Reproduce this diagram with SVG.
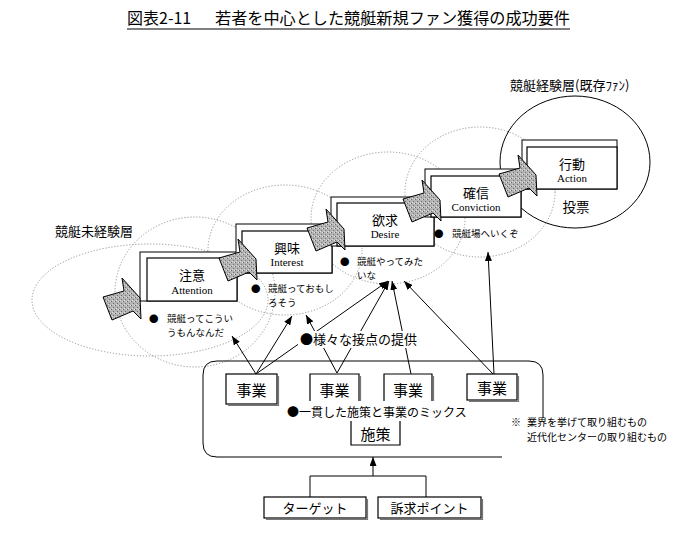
<svg xmlns="http://www.w3.org/2000/svg" xmlns:xlink="http://www.w3.org/1999/xlink" width="700" height="550" viewBox="0 0 700 550">
<style>
.jp{font-family:"Noto Sans CJK JP","Liberation Sans",sans-serif;fill:#000}
.en{font-family:"Liberation Serif",serif;fill:#000;font-size:11px}
.dot{fill:none;stroke:#8a8a8a;stroke-width:0.9;stroke-dasharray:1.2 1.8}
.frame{fill:#fff;stroke:#000;stroke-width:1}
.inner{fill:#fff;stroke:#000;stroke-width:1.2}
.conn{fill:none;stroke:#000;stroke-width:1}
.box{fill:#fff;stroke:#000;stroke-width:1.2}
.shadow{fill:none;stroke:#777;stroke-width:1.2}
.garrow{fill:url(#stip);stroke:#000;stroke-width:1;stroke-linejoin:miter}
</style>
<defs>
<pattern id="stip" width="4" height="4" patternUnits="userSpaceOnUse">
<rect width="4" height="4" fill="#b4b4b4"/>
<rect x="0" y="0" width="1" height="1" fill="#666"/>
<rect x="2" y="2" width="1" height="1" fill="#707070"/>
<rect x="3" y="0" width="1" height="1" fill="#e0e0e0"/>
<rect x="1" y="3" width="1" height="1" fill="#dcdcdc"/>
</pattern>
<marker id="ah" viewBox="0 0 9 7" refX="9" refY="3.5" markerWidth="9" markerHeight="7" markerUnits="userSpaceOnUse" orient="auto">
<path d="M0,0 L9,3.5 L0,7 z" fill="#000"/>
</marker>
<polygon id="ga" class="garrow" points="0,0 21,-6 19,-19 37,1 38,22 30,14 9,23"/>
</defs>
<rect width="700" height="550" fill="#fff"/>

<g id="title">
<text class="jp" x="127" y="24" font-size="16">図表2-11</text>
<text class="jp" x="215" y="24" font-size="16" textLength="355" lengthAdjust="spacingAndGlyphs">若者を中心とした競艇新規ファン獲得の成功要件</text>
<line x1="127" y1="29" x2="570" y2="29" stroke="#000" stroke-width="1.2"/>
</g>

<g id="circles">
<ellipse class="dot" cx="150" cy="300" rx="118" ry="56"/>
<ellipse class="dot" cx="195" cy="292" rx="80" ry="75"/>
<ellipse class="dot" cx="285" cy="250" rx="77" ry="65"/>
<ellipse class="dot" cx="388" cy="218" rx="77" ry="66"/>
<ellipse class="dot" cx="480" cy="192" rx="75" ry="65"/>
<ellipse cx="575" cy="162" rx="75" ry="66" fill="none" stroke="#000" stroke-width="1"/>
</g>

<g id="layer-labels">
<text class="jp" x="55" y="236" font-size="13">競艇未経験層</text>
<text class="jp" x="510" y="90" font-size="13">競艇経験層(既存ﾌｧﾝ)</text>
</g>

<g id="stage-attention">
<rect class="frame" x="140" y="252" width="97" height="49"/>
<rect class="inner" x="147" y="258" width="90" height="43"/>
<text class="jp" x="192" y="280" font-size="13" text-anchor="middle">注意</text>
<text class="en" x="192" y="294" text-anchor="middle">Attention</text>
</g>
<g id="stage-interest">
<rect class="frame" x="236" y="224" width="96" height="49"/>
<rect class="inner" x="242" y="231" width="90" height="42"/>
<text class="jp" x="287" y="253" font-size="13" text-anchor="middle">興味</text>
<text class="en" x="287" y="266" text-anchor="middle">Interest</text>
</g>
<g id="stage-desire">
<rect class="frame" x="331" y="197" width="103" height="49"/>
<rect class="inner" x="337" y="203" width="97" height="43"/>
<text class="jp" x="385" y="225" font-size="13" text-anchor="middle">欲求</text>
<text class="en" x="385" y="238" text-anchor="middle">Desire</text>
</g>
<g id="stage-conviction">
<rect class="frame" x="425" y="169" width="96" height="48"/>
<rect class="inner" x="431" y="176" width="90" height="41"/>
<text class="jp" x="476" y="198" font-size="13" text-anchor="middle">確信</text>
<text class="en" x="476" y="211" text-anchor="middle">Conviction</text>
</g>
<g id="stage-action">
<rect class="frame" x="522" y="140" width="95" height="49"/>
<rect class="inner" x="527" y="147" width="90" height="42"/>
<text class="jp" x="572" y="169" font-size="13" text-anchor="middle">行動</text>
<text class="en" x="572" y="182" text-anchor="middle">Action</text>
<text class="jp" x="576" y="212" font-size="13.5" text-anchor="middle">投票</text>
</g>

<g id="flow-arrows">
<use xlink:href="#ga" href="#ga" transform="translate(103,297)"/>
<use xlink:href="#ga" href="#ga" transform="translate(219,258)"/>
<use xlink:href="#ga" href="#ga" transform="translate(307,228)"/>
<use xlink:href="#ga" href="#ga" transform="translate(403,199)"/>
<use xlink:href="#ga" href="#ga" transform="translate(499,174)"/>
</g>

<g id="stage-notes" class="jp" font-size="9.5">
<text x="149" y="322">●<tspan x="167">競艇ってこうい</tspan></text>
<text x="167" y="336">うもんなんだ</text>
<text x="251" y="292">●<tspan x="268">競艇っておもし</tspan></text>
<text x="268" y="306">ろそう</text>
<text x="340" y="265">●<tspan x="357">競艇やってみた</tspan></text>
<text x="357" y="279">いな</text>
<text x="434" y="237">●<tspan x="452">競艇場へいくぞ</tspan></text>
</g>

<g id="connectors">
<line class="conn" x1="256" y1="374" x2="232" y2="336" marker-end="url(#ah)"/>
<line class="conn" x1="256" y1="374" x2="292" y2="316" marker-end="url(#ah)"/>
<line class="conn" x1="256" y1="374" x2="388" y2="281" marker-end="url(#ah)"/>
<line class="conn" x1="337" y1="373" x2="306" y2="315" marker-end="url(#ah)"/>
<line class="conn" x1="337" y1="373" x2="389" y2="281" marker-end="url(#ah)"/>
<line class="conn" x1="411" y1="374" x2="392" y2="281" marker-end="url(#ah)"/>
<line class="conn" x1="493" y1="374" x2="404" y2="281" marker-end="url(#ah)"/>
<line class="conn" x1="494" y1="374" x2="488" y2="252" marker-end="url(#ah)"/>
<path class="conn" d="M310,497 V476 H426 V497"/>
<line class="conn" x1="373" y1="476" x2="373" y2="457" marker-end="url(#ah)"/>
</g>

<g id="touchpoints-label">
<rect x="298" y="331" width="122" height="17" fill="#fff"/>
<text class="jp" x="300" y="344" font-size="13">●様々な接点の提供</text>
</g>

<g id="container">
<path d="M543,418 V375 Q543,361 529,361 H217 Q203,361 203,375 V443 Q203,457 217,457 H502" fill="none" stroke="#000" stroke-width="1"/>
</g>

<g id="biz-1">
<path class="shadow" d="M278.5,376 V405.5 H228"/>
<rect class="box" x="226" y="374" width="51" height="30"/>
<text class="jp" x="251.5" y="396" font-size="15" text-anchor="middle">事業</text>
</g>
<g id="biz-2">
<path class="box" fill="none" d="M310,401 V374 H359 V401"/>
<path class="shadow" d="M360.5,376 V401"/>
<text class="jp" x="334.5" y="396" font-size="15" text-anchor="middle">事業</text>
</g>
<g id="biz-3">
<path class="box" fill="none" d="M384,401 V374 H432 V401"/>
<path class="shadow" d="M433.5,376 V401"/>
<text class="jp" x="408" y="396" font-size="15" text-anchor="middle">事業</text>
</g>
<g id="biz-4">
<path class="shadow" d="M518.5,376 V401.5 H469"/>
<rect class="box" x="467" y="374" width="50" height="26"/>
<text class="jp" x="492" y="394" font-size="15" text-anchor="middle">事業</text>
</g>

<g id="mix-label">
<text class="jp" x="287" y="417" font-size="12">●一貫した施策と事業のミックス</text>
</g>

<g id="policy">
<path class="box" fill="none" d="M351,421 V445 H400 V421"/>
<text class="jp" x="375.5" y="440" font-size="15" text-anchor="middle">施策</text>
</g>

<g id="note" class="jp" font-size="10">
<text x="511" y="426">※<tspan x="527">業界を挙げて取り組むもの</tspan></text>
<text x="527" y="441">近代化センターの取り組むもの</text>
</g>

<g id="target">
<path class="shadow" d="M367.5,499 V519.5 H266"/>
<rect class="box" x="264" y="497" width="102" height="21"/>
<text class="jp" x="315" y="513" font-size="13" text-anchor="middle">ターゲット</text>
</g>
<g id="appeal">
<path class="shadow" d="M482.5,499 V519.5 H380"/>
<rect class="box" x="378" y="497" width="103" height="21"/>
<text class="jp" x="429.5" y="513" font-size="13" text-anchor="middle">訴求ポイント</text>
</g>
</svg>
